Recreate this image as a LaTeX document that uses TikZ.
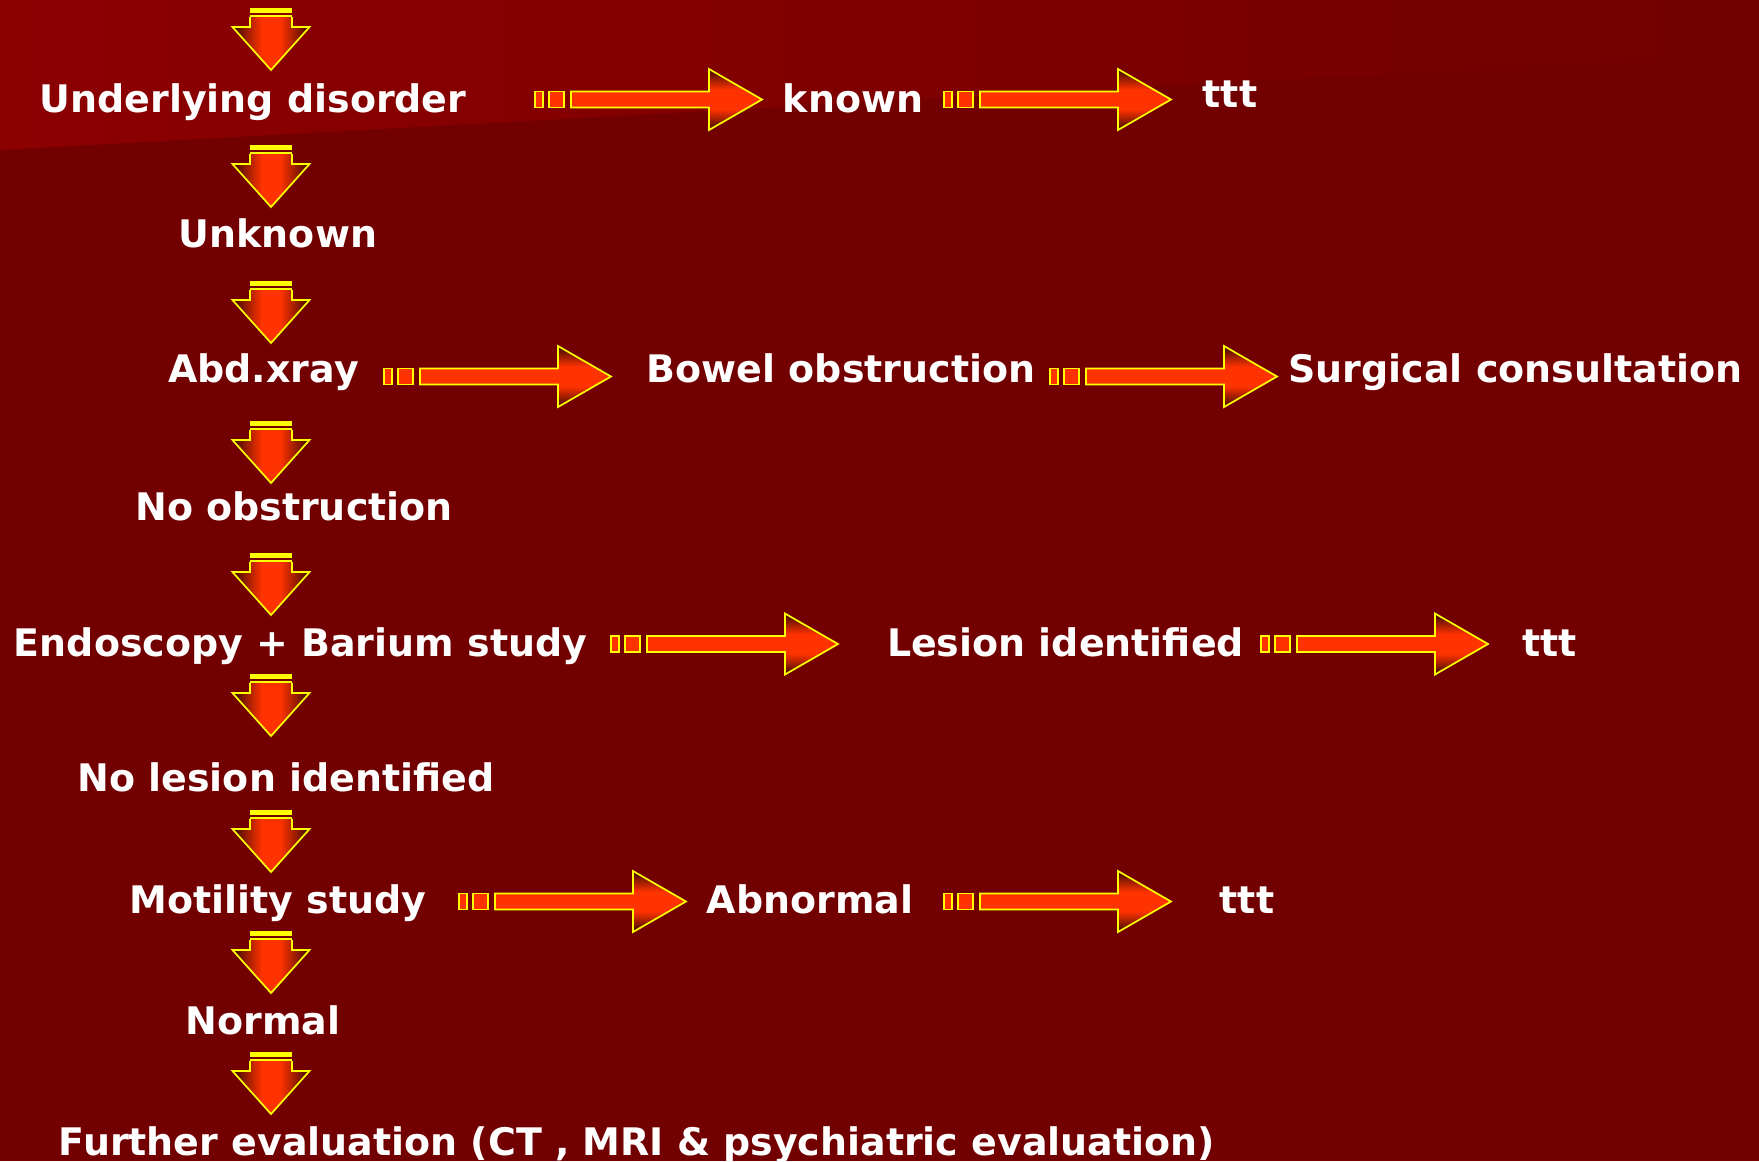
\documentclass[tikz,border=0pt]{standalone}
\usepackage{fontspec}
\setmainfont{DejaVu Sans}
\usepackage{xcolor}
\usepackage{tikz}
\usetikzlibrary{positioning, calc}

\definecolor{bgred}{HTML}{720000}
\definecolor{topred}{HTML}{8C0000}
\definecolor{arrfill}{HTML}{FF3300}
\definecolor{arrdark}{HTML}{3A0800}
\definecolor{arrline}{HTML}{FFFF00}

\pgfdeclarehorizontalshading{headh}{100bp}{color(0bp)=(arrdark); color(25bp)=(arrdark); color(44bp)=(arrfill); color(56bp)=(arrfill); color(75bp)=(arrdark); color(100bp)=(arrdark)}
\pgfdeclareverticalshading{headv}{100bp}{color(0bp)=(arrdark); color(25bp)=(arrdark); color(42bp)=(arrfill); color(58bp)=(arrfill); color(75bp)=(arrdark); color(100bp)=(arrdark)}

% block arrow pointing right, tail at #1
\newcommand{\rightblock}[1]{%
  \begin{scope}[shift={(#1)}]
    \draw[blockline, fill=arrfill] (0,-8) rectangle (8,8);
    \draw[blockline, fill=arrfill] (14,-8) rectangle (29,8);
    \fill[arrfill] (36,-8) -- (174,-8) -- (174,-30.5) -- (227,0) -- (174,30.5) -- (174,8) -- (36,8) -- cycle;
    \shade[shading=headv] (174,-30.5) -- (227,0) -- (174,30.5) -- cycle;
    \draw[blockline] (36,-8) -- (174,-8) -- (174,-30.5) -- (227,0) -- (174,30.5) -- (174,8) -- (36,8) -- cycle;
  \end{scope}}

% block arrow pointing down, top at #1
\newcommand{\downblock}[1]{%
  \begin{scope}[shift={(#1)}]
    \fill[arrline] (-21,0) rectangle (21,5);
    \fill[arrline] (-21,6.5) rectangle (21,9);
    \shade[shading=headh] (-21,9) -- (-21,19) -- (-38.5,19) -- (0,62) -- (38.5,19) -- (21,19) -- (21,9) -- cycle;
    \draw[blockline] (-21,9) -- (-21,19) -- (-38.5,19) -- (0,62) -- (38.5,19) -- (21,19) -- (21,9);
  \end{scope}}

\begin{document}
\begin{tikzpicture}[x=0.1mm, y=-0.1mm,
    blockline/.style={draw=arrline, line width=0.17mm, line join=miter},
    step label/.style={text=white, inner sep=0, anchor=base,
                       font=\fontsize{10.8}{13}\selectfont\bfseries}]

  % background
  \useasboundingbox (0,0) rectangle (1759,1161);
  \fill[bgred] (0,0) rectangle (1759,1161);
  \shade[left color=topred, right color=bgred] (0,0) -- (1759,0) -- (1759,53) -- (0,150) -- cycle;

  % main column
  \node[step label] (under)   at (253,112)  {Underlying disorder};
  \node[step label] (unknown) at (278,247)  {Unknown};
  \node[step label] (xray)    at (263.5,382) {Abd.xray};
  \node[step label] (noobst)  at (294,520)  {No obstruction};
  \node[step label] (endo)    at (300.5,656) {Endoscopy + Barium study};
  \node[step label] (nolesion) at (286,791) {No lesion identified};
  \node[step label] (motility) at (278,913) {Motility study};
  \node[step label] (normal)  at (263,1034) {Normal};
  \node[step label] (further) at (637,1155) {Further evaluation (CT , MRI \& psychiatric evaluation)};

  % side branches
  \node[step label] (known)    at (853,112)   {known};
  \node[step label] (ttta)     at (1230,107)  {ttt};
  \node[step label] (bowel)    at (841,382)   {Bowel obstruction};
  \node[step label] (surgical) at (1515.5,382) {Surgical consultation};
  \node[step label] (lesion)   at (1065.5,656) {Lesion identified};
  \node[step label] (tttb)     at (1549.5,656) {ttt};
  \node[step label] (abnormal) at (810,913)   {Abnormal};
  \node[step label] (tttc)     at (1247,913)  {ttt};

  % down arrows
  \foreach \t [count=\i] in {8,145,281,421,553,674,810,931,1052}{
    \coordinate (d\i) at (271,\t);
    \downblock{d\i}
  }

  % right arrows
  \coordinate (r1) at (535,99.5);
  \coordinate (r2) at (944,99.5);
  \coordinate (r3) at (384,376.5);
  \coordinate (r4) at (1050,376.5);
  \coordinate (r5) at (611,644);
  \coordinate (r6) at (1261,644);
  \coordinate (r7) at (459,901.5);
  \coordinate (r8) at (944,901.5);
  \foreach \i in {1,...,8}{\rightblock{r\i}}

\end{tikzpicture}
\end{document}
